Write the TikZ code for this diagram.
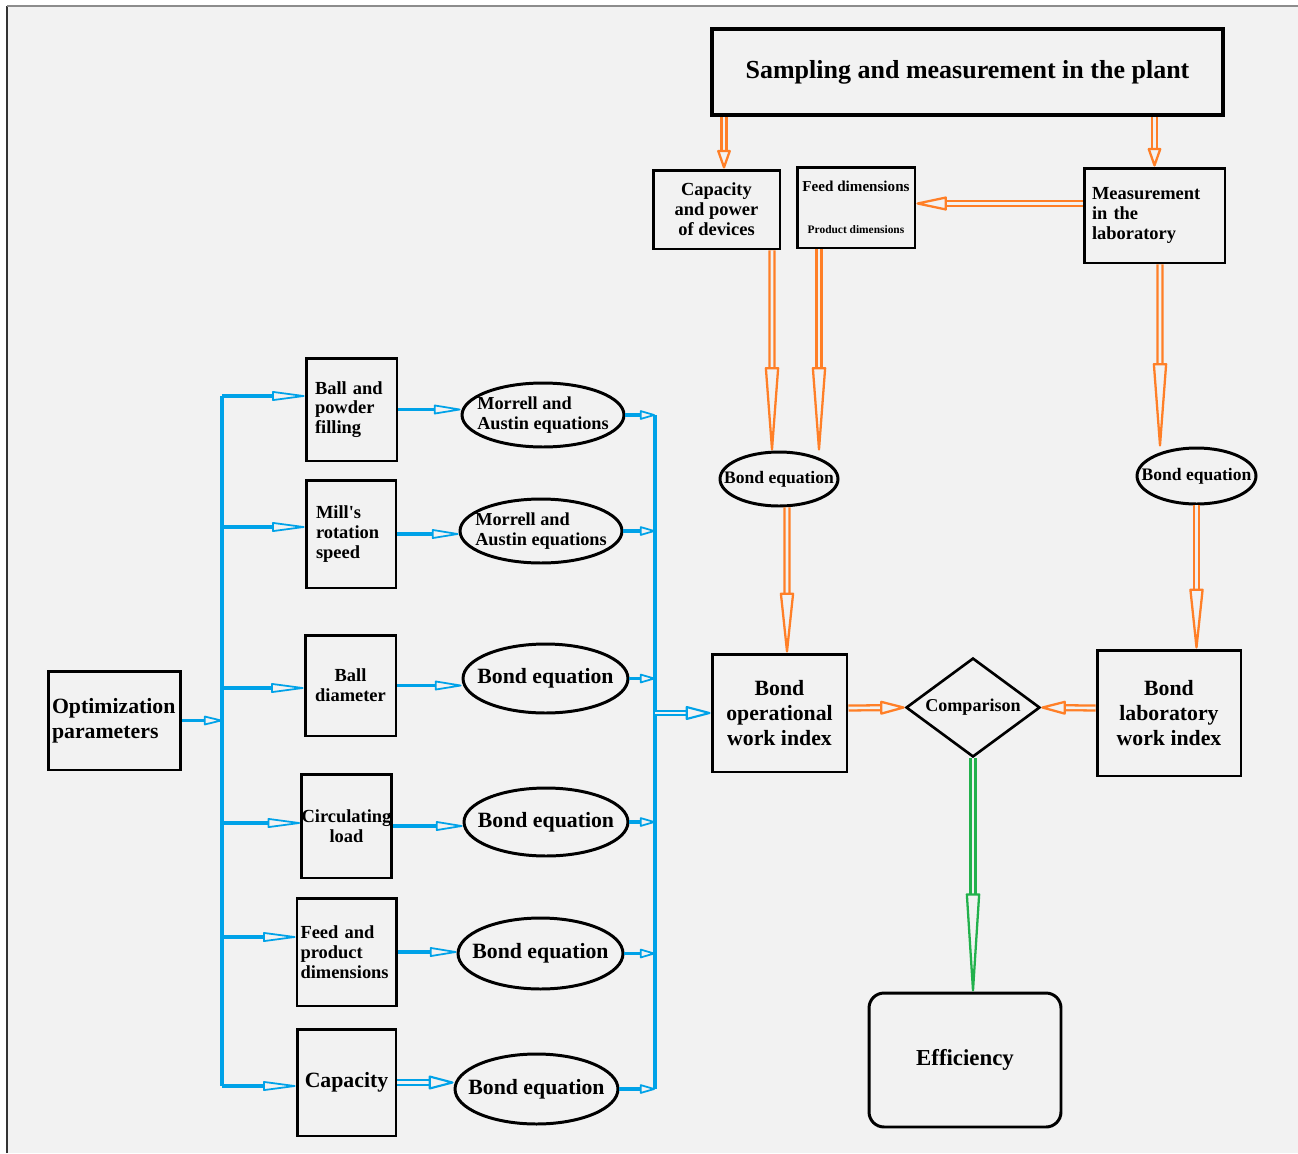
\documentclass[tikz,border=0pt]{standalone}
\usepackage{fontspec}
\setmainfont{Liberation Serif}
\usetikzlibrary{shapes.geometric,arrows.meta,calc}

\definecolor{bgc}{HTML}{F2F2F2}
\definecolor{orc}{HTML}{FF7F27}
\definecolor{blc}{HTML}{00A2E8}
\definecolor{grc}{HTML}{22B14C}

\begin{document}
\begin{tikzpicture}[x=0.02cm,y=-0.02cm,
  box/.style={rectangle,draw,line width=1.7pt,inner sep=2pt},
  ell/.style={ellipse,draw,line width=1.7pt,inner xsep=-12pt,inner ysep=0pt},
  fbig/.style={font=\bfseries\fontsize{12.4}{14.2}\selectfont},
  fsmall/.style={font=\bfseries\fontsize{10.5}{11.3}\selectfont},
  fmid/.style={font=\bfseries\fontsize{10.4}{11.3}\selectfont},
  oarr/.style={draw=orc,line width=1.3pt,double=bgc,double distance=1.5pt,
    -{Triangle[open,round,length=#1,width=8pt,line width=1.3pt]}},
  oarr/.default=16pt,
  garr/.style={oarr=#1,draw=grc},
  bline/.style={draw=blc,line width=1.8pt},
  barr/.style={draw=blc,line width=2.2pt,-{Triangle[open,round,length=#1,width=5.5pt,line width=1pt]}},
  barr/.default=12pt,
  bdarr/.style={draw=blc,line width=1.2pt,double=bgc,double distance=1.3pt,
    -{Triangle[open,round,length=#1,width=8pt,line width=1.2pt]}},
  bdarr/.default=16pt]

% page
\useasboundingbox (0,0) rectangle (1298,1153);
\fill[white] (0,0) rectangle (1298,1153);
\fill[bgc] (7,6) rectangle (1298,1153);
\draw[black!80,line width=1.2pt] (7,1153) -- (7,6);
\draw[black!45,line width=1pt] (7,6) -- (1298,6);

% plant and laboratory
\node[box,line width=2pt,minimum width=10.22cm,minimum height=1.72cm,
  font=\bfseries\fontsize{14.8}{17}\selectfont] (plant) at (967.5,72) {Sampling and measurement in the plant};
\node[box,fsmall,align=center,minimum width=2.54cm,minimum height=1.58cm] (devices) at (716.5,209.5) {Capacity\\and power\\of devices};
\node[box,align=center,minimum width=2.36cm,minimum height=1.62cm,
  font=\bfseries\fontsize{8.6}{10}\selectfont] (dims) at (856,207.5) {Feed dimensions\\[14pt]{\fontsize{6.5}{7}\selectfont Product dimensions}};
\node[box,fsmall,align=left,text width=2.5cm,minimum width=2.82cm,minimum height=1.9cm] (lab) at (1154.5,215.5) {Measurement\\in the\\laboratory};
\node[ell,font=\bfseries\fontsize{10}{12}\selectfont,minimum width=2.36cm,minimum height=1.08cm] (bondA) at (779,479) {Bond equation};
\node[ell,font=\bfseries\fontsize{10}{12}\selectfont,minimum width=2.38cm,minimum height=1.12cm] (bondB) at (1196.5,476) {Bond equation};
\node[box,fbig,align=center,minimum width=2.7cm,minimum height=2.36cm] (oper) at (779.5,713) {Bond\\operational\\work index};
\node[diamond,draw,line width=1.5pt,aspect=1.35,inner sep=0pt,minimum width=2.68cm,minimum height=1.98cm,
  font=\bfseries\fontsize{10.3}{12}\selectfont] (comp) at (973,707.5) {Comparison};
\node[box,fbig,align=center,minimum width=2.88cm,minimum height=2.52cm] (labidx) at (1169,713) {Bond\\laboratory\\work index};
\node[box,rounded corners=0.3cm,minimum width=3.84cm,minimum height=2.68cm,
  font=\bfseries\fontsize{13}{15}\selectfont] (eff) at (965,1060) {Efficiency};

% optimization side
\node[box,fbig,align=left,text width=2.5cm,minimum width=2.66cm,minimum height=1.98cm] (opt) at (114.5,720.5) {Optimization\\parameters};
\node[box,fsmall,align=left,text width=1.46cm,minimum width=1.82cm,minimum height=2.06cm] (filling) at (351.5,409.5) {Ball and\\powder\\filling};
\node[box,fsmall,align=left,text width=1.4cm,minimum width=1.8cm,minimum height=2.16cm] (speed) at (351,534) {Mill\textquotesingle s\\rotation\\speed};
\node[box,fsmall,align=center,minimum width=1.82cm,minimum height=2.02cm] (diameter) at (350.5,685.5) {Ball\\diameter};
\node[box,fsmall,align=center,inner xsep=0pt,minimum width=1.78cm,minimum height=2.08cm] (load) at (346.5,826) {Circulating\\load};
\node[box,fsmall,align=left,text width=1.84cm,minimum width=1.98cm,minimum height=2.16cm] (feeddim) at (346.5,952) {Feed and\\product\\dimensions\\[3pt]};
\node[box,fbig,minimum width=1.98cm,minimum height=2.14cm] (capacity) at (346.5,1082.5) {Capacity};

\node[ell,fmid,align=left,minimum width=3.24cm,minimum height=1.28cm] (morrA) at (543,415) {Morrell and\\Austin equations};
\node[ell,fmid,align=left,minimum width=3.24cm,minimum height=1.28cm] (morrB) at (541,531) {Morrell and\\Austin equations};
\node[ell,fbig,minimum width=3.3cm,minimum height=1.38cm] (bondC) at (545.5,678.5) {Bond equation};
\node[ell,fbig,minimum width=3.28cm,minimum height=1.36cm] (bondD) at (546,822) {Bond equation};
\node[ell,fbig,minimum width=3.3cm,minimum height=1.42cm] (bondE) at (540.5,953.5) {Bond equation};
\node[ell,fbig,minimum width=3.26cm,minimum height=1.4cm] (bondF) at (536.5,1089) {Bond equation};

% orange connectors
\draw[oarr=12pt] ($(plant.south -| devices.north)+(7.5,0)$) -- ($(devices.north)+(7.5,0)$);
\draw[oarr=12pt] (plant.south -| lab.north) -- (lab.north);
\draw[oarr=20pt] ($(lab.west)+(0,-12)$) -- ($(lab.west -| dims.east)+(0,-12)$);
\draw[oarr=56pt] ($(devices.south)+(55.5,0)$) -- ($(bondA.north)+(-7,0)$);
\draw[oarr=56pt] ($(dims.south)+(-37,0)$) -- ($(bondA.north)+(40,0)$);
\draw[oarr=56pt] ($(lab.south)+(5.5,0)$) -- ($(bondB.north)+(-36.5,0)$);
\draw[oarr=40pt] ($(bondA.south)+(8,0)$) -- ($(oper.north)+(7.5,0)$);
\draw[oarr=40pt] (bondB.south) -- (bondB.south |- labidx.north);
\draw[oarr=16pt] ($(oper.east)+(0,-5)$) -- (comp.west);
\draw[oarr=16pt] ($(labidx.west)+(0,-5)$) -- (comp.east);
\draw[garr=66pt] (comp.south) -- (comp.south |- eff.north);

% blue connectors
\coordinate (lt) at (222,396);
\coordinate (lb) at (222,1086);
\coordinate (rt) at (655,415);
\coordinate (rb) at (655,1089);
\draw[bline] (lt) -- (lb);
\draw[bline] (rt) -- (rb);
\draw[barr] (opt.east) -- (opt.east -| lt);
\foreach \n/\y in {filling/396,speed/527,diameter/688,load/823,feeddim/937,capacity/1086}{
  \coordinate (j) at (222,\y);
  \draw[barr=22pt] (j) -- (j -| \n.west);
}
\foreach \a/\b in {filling/morrA,speed/morrB,diameter/bondC,load/bondD,feeddim/bondE}
  \draw[barr=18pt] (\a.east) -- (\a.east -| \b.west);
\draw[bdarr] (capacity.east) -- (capacity.east -| bondF.west);
\foreach \e in {morrA,morrB,bondC,bondD,bondE,bondF}
  \draw[barr=10pt] (\e.east) -- (\e.east -| rt);
\draw[bdarr] (oper.west -| rt) -- (oper.west);
\end{tikzpicture}
\end{document}
